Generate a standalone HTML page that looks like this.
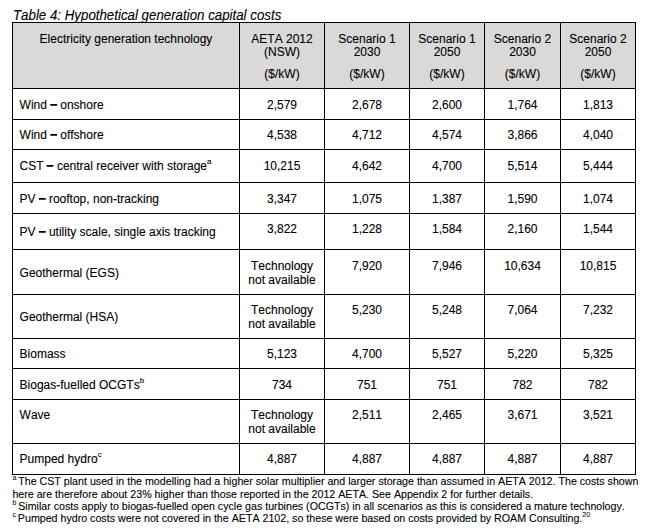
<!DOCTYPE html>
<html><head><meta charset="utf-8"><title>Table 4</title>
<style>
html,body{margin:0;padding:0;background:#fff;}
body{font-kerning:none;width:654px;height:532px;position:relative;overflow:hidden;font-family:"Liberation Sans",sans-serif;color:#000;}
.hb{position:absolute;background:#d9d9d9;}
.ln{position:absolute;background:#000;}
.t{position:absolute;white-space:nowrap;font-size:12px;line-height:14px;height:14px;-webkit-text-stroke:0.1px #000;}
.c{text-align:center;}
.l{text-align:left;}
.cap{font-style:italic;transform-origin:0 11px;transform:translateY(-0.4px) scaleY(1.057);}
.d{display:inline-block;width:6.67px;height:1px;}
.ov{position:absolute;left:0;top:0;}
.sp{font-size:8px;position:relative;top:-6px;line-height:0;}
.fs{font-size:7px;position:relative;top:-5px;line-height:0;color:#222;}
</style></head><body>
<div class="hb" style="left:12px;top:22px;width:624px;height:66px"></div>
<div class="ln" style="left:12px;top:22px;width:1px;height:453px"></div>
<div class="ln" style="left:239px;top:22px;width:1px;height:453px"></div>
<div class="ln" style="left:324px;top:22px;width:1px;height:453px"></div>
<div class="ln" style="left:409px;top:22px;width:1px;height:453px"></div>
<div class="ln" style="left:484px;top:22px;width:1px;height:453px"></div>
<div class="ln" style="left:560px;top:22px;width:1px;height:453px"></div>
<div class="ln" style="left:635px;top:22px;width:1px;height:453px"></div>
<div class="ln" style="left:12px;top:22px;width:624px;height:1px"></div>
<div class="ln" style="left:12px;top:88px;width:624px;height:1px"></div>
<div class="ln" style="left:12px;top:119px;width:624px;height:1px"></div>
<div class="ln" style="left:12px;top:149px;width:624px;height:1px"></div>
<div class="ln" style="left:12px;top:182px;width:624px;height:1px"></div>
<div class="ln" style="left:12px;top:213px;width:624px;height:1px"></div>
<div class="ln" style="left:12px;top:249px;width:624px;height:1px"></div>
<div class="ln" style="left:12px;top:294px;width:624px;height:1px"></div>
<div class="ln" style="left:12px;top:338px;width:624px;height:1px"></div>
<div class="ln" style="left:12px;top:368px;width:624px;height:1px"></div>
<div class="ln" style="left:12px;top:399px;width:624px;height:1px"></div>
<div class="ln" style="left:12px;top:443px;width:624px;height:1px"></div>
<div class="ln" style="left:12px;top:474px;width:624px;height:1px"></div>
<div class="t cap" style="left:13px;top:9.00px;font-size:13.30px">Table 4: Hypothetical generation capital costs</div>
<div class="t c" style="left:13.00px;top:32.00px;width:226.00px;">Electricity generation technology</div>
<div class="t c" style="left:240.00px;top:32.00px;width:84.00px;">AETA 2012</div>
<div class="t c" style="left:240.00px;top:45.00px;width:84.00px;">(NSW)</div>
<div class="t c" style="left:240.00px;top:67.00px;width:84.00px;">($/kW)</div>
<div class="t c" style="left:325.00px;top:32.00px;width:84.00px;">Scenario 1</div>
<div class="t c" style="left:325.00px;top:45.00px;width:84.00px;">2030</div>
<div class="t c" style="left:325.00px;top:67.00px;width:84.00px;">($/kW)</div>
<div class="t c" style="left:410.00px;top:32.00px;width:74.00px;">Scenario 1</div>
<div class="t c" style="left:410.00px;top:45.00px;width:74.00px;">2050</div>
<div class="t c" style="left:410.00px;top:67.00px;width:74.00px;">($/kW)</div>
<div class="t c" style="left:485.00px;top:32.00px;width:75.00px;">Scenario 2</div>
<div class="t c" style="left:485.00px;top:45.00px;width:75.00px;">2030</div>
<div class="t c" style="left:485.00px;top:67.00px;width:75.00px;">($/kW)</div>
<div class="t c" style="left:561.00px;top:32.00px;width:74.00px;">Scenario 2</div>
<div class="t c" style="left:561.00px;top:45.00px;width:74.00px;">2050</div>
<div class="t c" style="left:561.00px;top:67.00px;width:74.00px;">($/kW)</div>
<div class="t l" style="left:19.60px;top:98.00px;width:230.00px;">Wind <span class="d"></span> onshore</div>
<div class="t c" style="left:240.00px;top:98.00px;width:84.00px;">2,579</div>
<div class="t c" style="left:325.00px;top:98.00px;width:84.00px;">2,678</div>
<div class="t c" style="left:410.00px;top:98.00px;width:74.00px;">2,600</div>
<div class="t c" style="left:485.00px;top:98.00px;width:75.00px;">1,764</div>
<div class="t c" style="left:561.00px;top:98.00px;width:74.00px;">1,813</div>
<div class="t l" style="left:19.60px;top:128.00px;width:230.00px;">Wind <span class="d"></span> offshore</div>
<div class="t c" style="left:240.00px;top:128.00px;width:84.00px;">4,538</div>
<div class="t c" style="left:325.00px;top:128.00px;width:84.00px;">4,712</div>
<div class="t c" style="left:410.00px;top:128.00px;width:74.00px;">4,574</div>
<div class="t c" style="left:485.00px;top:128.00px;width:75.00px;">3,866</div>
<div class="t c" style="left:561.00px;top:128.00px;width:74.00px;">4,040</div>
<div class="t l" style="left:19.60px;top:159.00px;width:230.00px;">CST <span class="d"></span> central receiver with storage<span class="sp">a</span></div>
<div class="t c" style="left:240.00px;top:159.00px;width:84.00px;">10,215</div>
<div class="t c" style="left:325.00px;top:159.00px;width:84.00px;">4,642</div>
<div class="t c" style="left:410.00px;top:159.00px;width:74.00px;">4,700</div>
<div class="t c" style="left:485.00px;top:159.00px;width:75.00px;">5,514</div>
<div class="t c" style="left:561.00px;top:159.00px;width:74.00px;">5,444</div>
<div class="t l" style="left:19.60px;top:192.00px;width:230.00px;">PV <span class="d"></span> rooftop, non-tracking</div>
<div class="t c" style="left:240.00px;top:192.00px;width:84.00px;">3,347</div>
<div class="t c" style="left:325.00px;top:192.00px;width:84.00px;">1,075</div>
<div class="t c" style="left:410.00px;top:192.00px;width:74.00px;">1,387</div>
<div class="t c" style="left:485.00px;top:192.00px;width:75.00px;">1,590</div>
<div class="t c" style="left:561.00px;top:192.00px;width:74.00px;">1,074</div>
<div class="t l" style="left:19.60px;top:225.00px;width:230.00px;">PV <span class="d"></span> utility scale, single axis tracking</div>
<div class="t c" style="left:240.00px;top:222.00px;width:84.00px;">3,822</div>
<div class="t c" style="left:325.00px;top:222.00px;width:84.00px;">1,228</div>
<div class="t c" style="left:410.00px;top:222.00px;width:74.00px;">1,584</div>
<div class="t c" style="left:485.00px;top:222.00px;width:75.00px;">2,160</div>
<div class="t c" style="left:561.00px;top:222.00px;width:74.00px;">1,544</div>
<div class="t l" style="left:19.60px;top:266.00px;width:230.00px;">Geothermal (EGS)</div>
<div class="t c" style="left:240.00px;top:259.00px;width:84.00px;">Technology</div>
<div class="t c" style="left:240.00px;top:273.00px;width:84.00px;">not available</div>
<div class="t c" style="left:325.00px;top:259.00px;width:84.00px;">7,920</div>
<div class="t c" style="left:410.00px;top:259.00px;width:74.00px;">7,946</div>
<div class="t c" style="left:485.00px;top:259.00px;width:75.00px;">10,634</div>
<div class="t c" style="left:561.00px;top:259.00px;width:74.00px;">10,815</div>
<div class="t l" style="left:19.60px;top:310.00px;width:230.00px;">Geothermal (HSA)</div>
<div class="t c" style="left:240.00px;top:303.00px;width:84.00px;">Technology</div>
<div class="t c" style="left:240.00px;top:317.00px;width:84.00px;">not available</div>
<div class="t c" style="left:325.00px;top:303.00px;width:84.00px;">5,230</div>
<div class="t c" style="left:410.00px;top:303.00px;width:74.00px;">5,248</div>
<div class="t c" style="left:485.00px;top:303.00px;width:75.00px;">7,064</div>
<div class="t c" style="left:561.00px;top:303.00px;width:74.00px;">7,232</div>
<div class="t l" style="left:19.60px;top:347.00px;width:230.00px;">Biomass</div>
<div class="t c" style="left:240.00px;top:347.00px;width:84.00px;">5,123</div>
<div class="t c" style="left:325.00px;top:347.00px;width:84.00px;">4,700</div>
<div class="t c" style="left:410.00px;top:347.00px;width:74.00px;">5,527</div>
<div class="t c" style="left:485.00px;top:347.00px;width:75.00px;">5,220</div>
<div class="t c" style="left:561.00px;top:347.00px;width:74.00px;">5,325</div>
<div class="t l" style="left:19.60px;top:378.00px;width:230.00px;">Biogas-fuelled OCGTs<span class="sp">b</span></div>
<div class="t c" style="left:240.00px;top:378.00px;width:84.00px;">734</div>
<div class="t c" style="left:325.00px;top:378.00px;width:84.00px;">751</div>
<div class="t c" style="left:410.00px;top:378.00px;width:74.00px;">751</div>
<div class="t c" style="left:485.00px;top:378.00px;width:75.00px;">782</div>
<div class="t c" style="left:561.00px;top:378.00px;width:74.00px;">782</div>
<div class="t l" style="left:19.60px;top:408.00px;width:230.00px;">Wave</div>
<div class="t c" style="left:240.00px;top:408.00px;width:84.00px;">Technology</div>
<div class="t c" style="left:240.00px;top:422.00px;width:84.00px;">not available</div>
<div class="t c" style="left:325.00px;top:408.00px;width:84.00px;">2,511</div>
<div class="t c" style="left:410.00px;top:408.00px;width:74.00px;">2,465</div>
<div class="t c" style="left:485.00px;top:408.00px;width:75.00px;">3,671</div>
<div class="t c" style="left:561.00px;top:408.00px;width:74.00px;">3,521</div>
<div class="t l" style="left:19.60px;top:452.00px;width:230.00px;">Pumped hydro<span class="sp">c</span></div>
<div class="t c" style="left:240.00px;top:452.00px;width:84.00px;">4,887</div>
<div class="t c" style="left:325.00px;top:452.00px;width:84.00px;">4,887</div>
<div class="t c" style="left:410.00px;top:452.00px;width:74.00px;">4,887</div>
<div class="t c" style="left:485.00px;top:452.00px;width:75.00px;">4,887</div>
<div class="t c" style="left:561.00px;top:452.00px;width:74.00px;">4,887</div>
<svg class="ov" width="654" height="532" viewBox="0 0 654 532" fill="#000"><rect x="50.30" y="104.00" width="6.85" height="1.75"/><rect x="50.30" y="134.00" width="6.85" height="1.75"/><rect x="46.60" y="165.00" width="6.85" height="1.75"/><rect x="38.90" y="198.00" width="6.85" height="1.75"/><rect x="38.90" y="231.00" width="6.85" height="1.75"/></svg>
<div class="t f" style="left:12.4px;top:474.00px;font-size:10.66px"><span class="fs">a </span>The CST plant used in the modelling had a higher solar multiplier and larger storage than assumed in AETA 2012. The costs shown</div>
<div class="t f" style="left:12.4px;top:486.90px;font-size:10.66px">here are therefore about 23% higher than those reported in the 2012 AETA. See Appendix 2 for further details.</div>
<div class="t f" style="left:12.4px;top:499.10px;font-size:10.66px"><span class="fs">b </span>Similar costs apply to biogas-fuelled open cycle gas turbines (OCGTs) in all scenarios as this is considered a mature technology.</div>
<div class="t f" style="left:12.4px;top:511.30px;font-size:10.66px"><span class="fs">c </span>Pumped hydro costs were not covered in the AETA 2102, so these were based on costs provided by ROAM Consulting.<span class="fs">20</span></div>
</body></html>
